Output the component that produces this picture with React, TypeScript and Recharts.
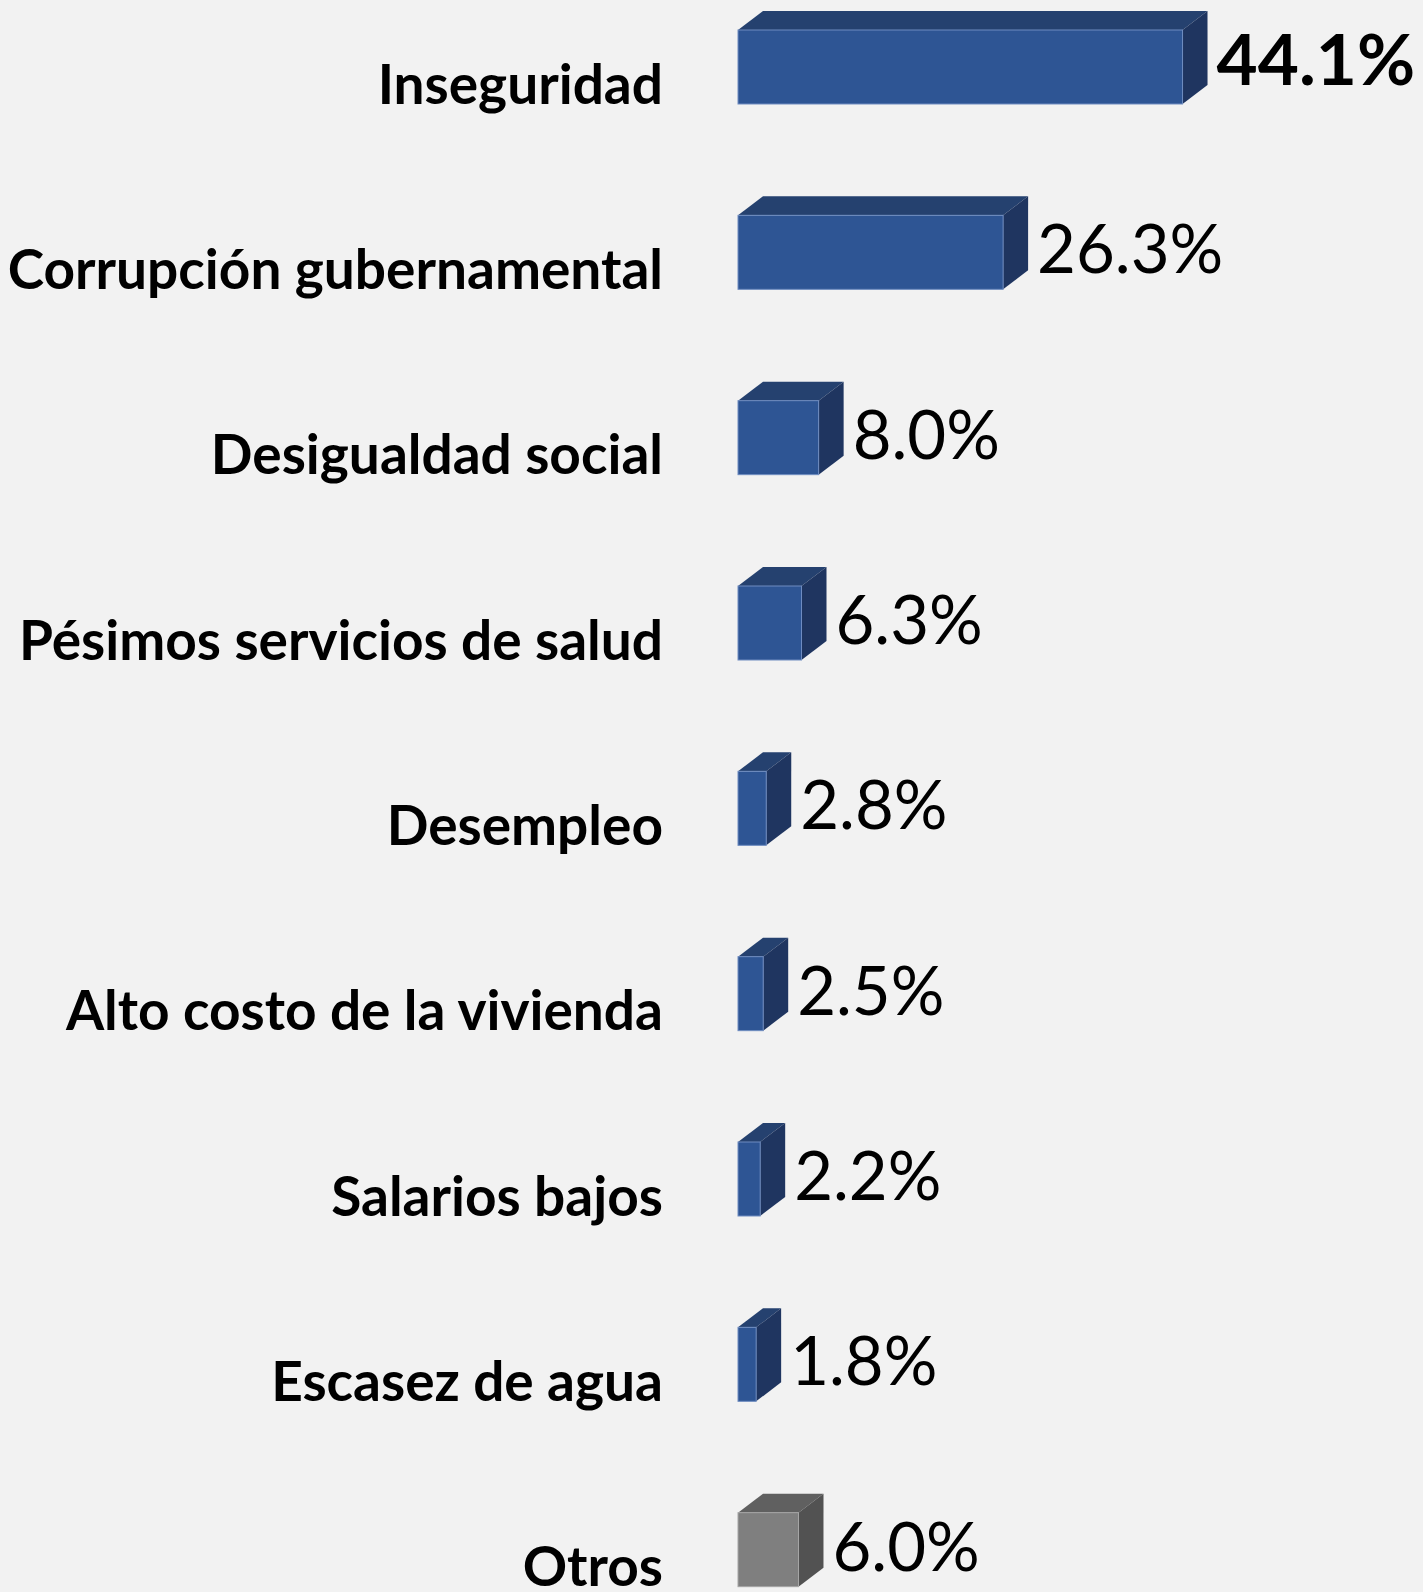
import { BarChart, Bar, XAxis, YAxis, LabelList } from "recharts";

document.body.style.margin = "0";
document.body.style.background = "#f2f2f2";

const categories = [
  "Inseguridad",
  "Corrupción gubernamental",
  "Desigualdad social",
  "Pésimos servicios de salud",
  "Desempleo",
  "Alto costo de la vivienda",
  "Salarios bajos",
  "Escasez de agua",
  "Otros",
];
const shares = [44.1, 26.3, 8.0, 6.3, 2.8, 2.5, 2.2, 1.8, 6.0];
const otherCategory = "Otros";

const data = categories.map((name, i) => ({ name, value: shares[i] }));

const BLUE = { front: "#2e5594", top: "#25416f", side: "#1f3560", edge: "#6f8cc0" };
const GRAY = { front: "#7f7f7f", top: "#606060", side: "#525252", edge: "#a6a6a6" };
const DEPTH_X = 25;
const DEPTH_Y = 19;
const LABEL_RIGHT = 663;

function Box3D(props: any) {
  const { x, y, width, height, payload } = props;
  const c = payload.name === otherCategory ? GRAY : BLUE;
  return (
    <g>
      <polygon
        points={`${x},${y} ${x + DEPTH_X},${y - DEPTH_Y} ${x + width + DEPTH_X},${y - DEPTH_Y} ${x + width},${y}`}
        fill={c.top}
      />
      <polygon
        points={`${x + width},${y} ${x + width + DEPTH_X},${y - DEPTH_Y} ${x + width + DEPTH_X},${y + height - DEPTH_Y} ${x + width},${y + height}`}
        fill={c.side}
      />
      <rect x={x} y={y} width={width} height={height} fill={c.front} stroke={c.edge} strokeWidth={1} />
    </g>
  );
}

function CategoryTick(props: any) {
  const { y, payload } = props;
  return (
    <text
      x={LABEL_RIGHT}
      y={y + 37}
      textAnchor="end"
      fontFamily="Lato"
      fontWeight={700}
      fontSize={55}
      fill="#000"
    >
      {payload.value}
    </text>
  );
}

function ValueLabel(props: any) {
  const { x, y, width, height, value, index } = props;
  const first = index === 0;
  return (
    <text
      x={x + width + DEPTH_X + 9}
      y={y + height / 2 - (first ? 8 : 3)}
      dy="0.36em"
      fontFamily="Lato"
      fontWeight={first ? 700 : 400}
      fontSize={first ? 71 : 67}
      fill="#000"
    >
      {value.toFixed(1)}%
    </text>
  );
}

export default function App() {
  return (
    <div style={{ position: "relative", width: 1423, height: 1592, overflow: "hidden", background: "#f2f2f2" }}>
      <div style={{ position: "absolute", top: -26, left: 0 }}>
        <BarChart
          width={1423}
          height={1668}
          data={data}
          layout="vertical"
          margin={{ top: 0, right: 181, bottom: 0, left: 0 }}
        >
          <XAxis type="number" domain={[0, 50]} hide />
          <YAxis
            type="category"
            dataKey="name"
            width={738}
            axisLine={false}
            tickLine={false}
            interval={0}
            tick={<CategoryTick />}
          />
          <Bar dataKey="value" barSize={74} shape={<Box3D />} isAnimationActive={false}>
            <LabelList dataKey="value" content={<ValueLabel />} />
          </Bar>
        </BarChart>
      </div>
    </div>
  );
}
